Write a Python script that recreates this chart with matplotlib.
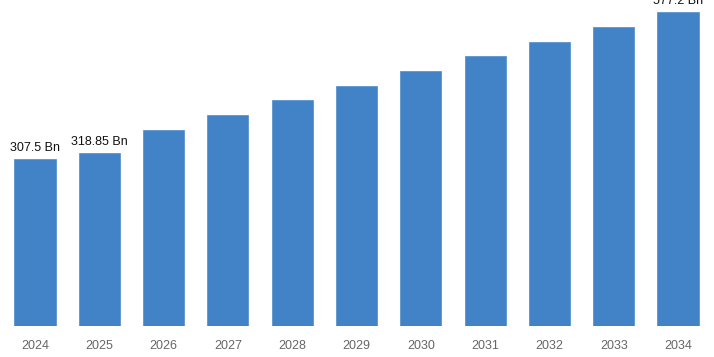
import matplotlib
matplotlib.use("Agg")
import matplotlib.pyplot as plt

years = ['2024', '2025', '2026', '2027', '2028', '2029', '2030', '2031', '2032', '2033', '2034']
values = [307.5, 318.85, 361, 388.6, 416, 442, 469.6, 497, 523, 550.6, 577.2]
labels = {0: '307.5 Bn', 1: '318.85 Bn', 10: '577.2 Bn'}

plt.rcParams['font.family'] = ['Liberation Sans', 'DejaVu Sans']

fig = plt.figure(figsize=(7.14, 3.57), dpi=100)
ax = fig.add_axes([0, 0.087, 1, 0.913])

x = list(range(len(years)))
ax.bar(x, values, width=0.64, color='#4183c6', edgecolor='#5b96d0', linewidth=0.6)

for i, txt in labels.items():
    ax.text(i, values[i] + 9, txt, ha='center', va='bottom', fontsize=9, color='#111111')

ax.set_xlim(-0.544, 10.56)
ax.set_ylim(0, 600)
ax.set_xticks(x)
ax.set_xticklabels(years, fontsize=9, color='#666666')
ax.tick_params(axis='x', length=0, pad=10)
ax.set_yticks([])
for s in ax.spines.values():
    s.set_visible(False)

fig.savefig('out.png', dpi=100)
